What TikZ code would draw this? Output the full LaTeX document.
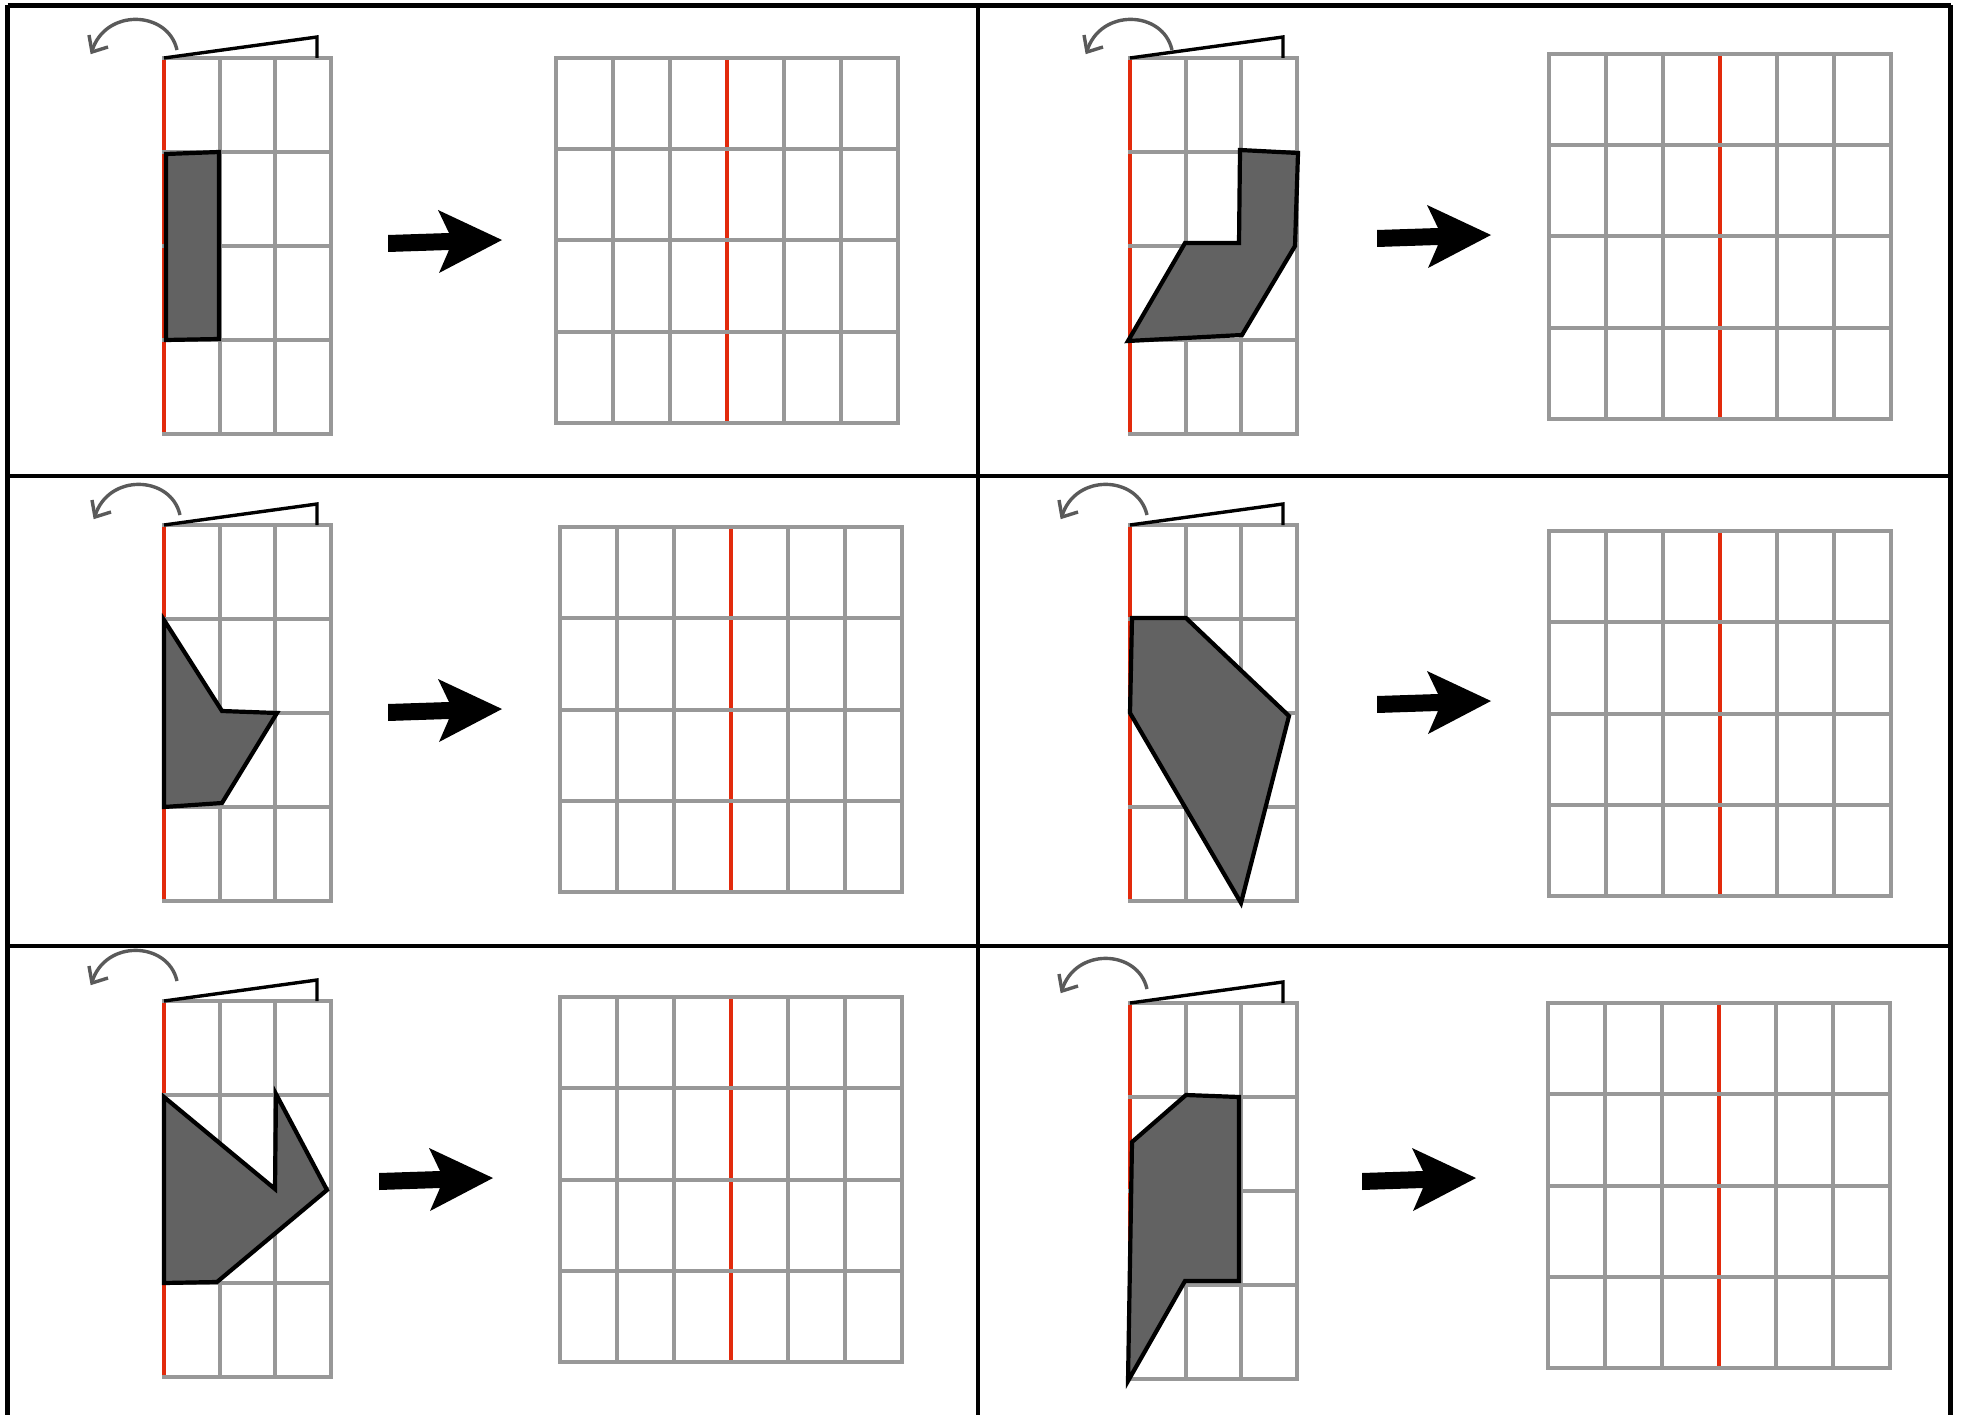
\documentclass[tikz,border=0pt]{standalone}
\usetikzlibrary{calc}
\definecolor{gridgray}{RGB}{152,152,152}
\definecolor{foldred}{RGB}{226,42,12}
\definecolor{shapefill}{RGB}{98,98,98}
\definecolor{arcgray}{RGB}{90,90,90}
\tikzset{
  gridline/.style={draw=gridgray,line width=4pt},
  redline/.style={draw=foldred,line width=4.2pt},
  shapeline/.style={draw=black,fill=shapefill,line width=4.2pt,line join=miter},
  foldline/.style={draw=black,line width=3.4pt,line join=miter},
  arcline/.style={draw=arcgray,line width=3.4pt},
  framestyle/.style={draw=black,line width=4.2pt}
}
\newcommand{\smallgrid}[2]{%
  \begin{scope}[shift={(#1,#2)}]
    \foreach \i in {1,2,3} \draw[gridline] ({\i*55.67},0) -- ({\i*55.67},376);
    \draw[redline] (0,0) -- (0,376);
    \foreach \j in {0,...,4} \draw[gridline] (-2,{\j*94}) -- (169,{\j*94});
  \end{scope}}
\newcommand{\biggrid}[2]{%
  \begin{scope}[shift={(#1,#2)}]
    \foreach \i in {0,1,2,4,5,6} \draw[gridline] ({\i*57},0) -- ({\i*57},365);
    \draw[redline] (171,0) -- (171,365);
    \foreach \j in {0,...,4} \draw[gridline] (-2,{\j*91.25}) -- (344,{\j*91.25});
  \end{scope}}
\newcommand{\bigarrow}[2]{%
  \fill[black,shift={(#1,#2)}] (-114,-5) -- (-53,-7) -- (-64,-30) -- (0,0) -- (-63,33) -- (-53,10) -- (-114,12) -- cycle;}
\newcommand{\foldsym}[4]{%
  \draw[foldline] (#1,#2) -- ++(153,-21) -- ++(0,21);
  \begin{scope}[shift={(#3,#4)}]
    \draw[arcline] (0,0) .. controls (-9,-40) and (-72,-42) .. (-85,1);
    \draw[arcline,line join=miter] (-88,-15) -- (-85,2) -- (-69,-3);
  \end{scope}}
\begin{document}
\begin{tikzpicture}[x=1pt,y=-1pt]
\useasboundingbox (0,0) rectangle (1963,1415);
\clip (0,0) rectangle (1963,1415);
\fill[white] (0,0) rectangle (1963,1415);
% frame
\draw[framestyle,line width=5.5pt] (7.5,5.5) -- (1950.5,5.5);
\draw[framestyle,line width=5.5pt] (7.5,5.5) -- (7.5,1430);
\draw[framestyle,line width=5.5pt] (1950.5,5.5) -- (1950.5,1430);
\draw[framestyle] (978,5.5) -- (978,1430);
\draw[framestyle] (7.5,476) -- (1950.5,476);
\draw[framestyle] (7.5,946) -- (1950.5,946);
% panel 1
\smallgrid{164}{58}
\foldsym{164}{58}{177}{50}
\draw[shapeline] (166,154) -- (219,152) -- (219,339) -- (166,340) -- cycle;
\bigarrow{502}{240}
\biggrid{556}{58}
% panel 2
\smallgrid{1130}{58}
\foldsym{1130}{58}{1172}{50}
\draw[shapeline] (1240,150) -- (1298,153) -- (1295,246) -- (1242,335) -- (1128,341) -- (1185,243) -- (1239,243) -- cycle;
\bigarrow{1491}{235}
\biggrid{1549}{54}
% panel 3
\smallgrid{164}{525}
\foldsym{164}{525}{180}{515}
\draw[shapeline] (164,620) -- (222,711) -- (277,713) -- (222,803) -- (164,807) -- cycle;
\bigarrow{502}{709}
\biggrid{560}{527}
% panel 4
\smallgrid{1130}{525}
\foldsym{1130}{525}{1147}{515}
\draw[shapeline] (1132,618) -- (1186,618) -- (1289,716) -- (1241,903) -- (1130,713) -- cycle;
\bigarrow{1491}{701}
\biggrid{1549}{531}
% panel 5
\smallgrid{164}{1001}
\foldsym{164}{1001}{177}{981}
\draw[shapeline] (164,1097) -- (275,1189) -- (276,1094) -- (327,1190) -- (217,1282) -- (164,1283) -- cycle;
\bigarrow{493}{1178}
\biggrid{560}{997}
% panel 6
\smallgrid{1130}{1003}
\foldsym{1130}{1003}{1147}{989}
\draw[shapeline] (1186,1095) -- (1239,1097) -- (1239,1281) -- (1185,1281) -- (1128,1381) -- (1132,1142) -- cycle;
\bigarrow{1476}{1178}
\biggrid{1548}{1003}
\end{tikzpicture}
\end{document}
